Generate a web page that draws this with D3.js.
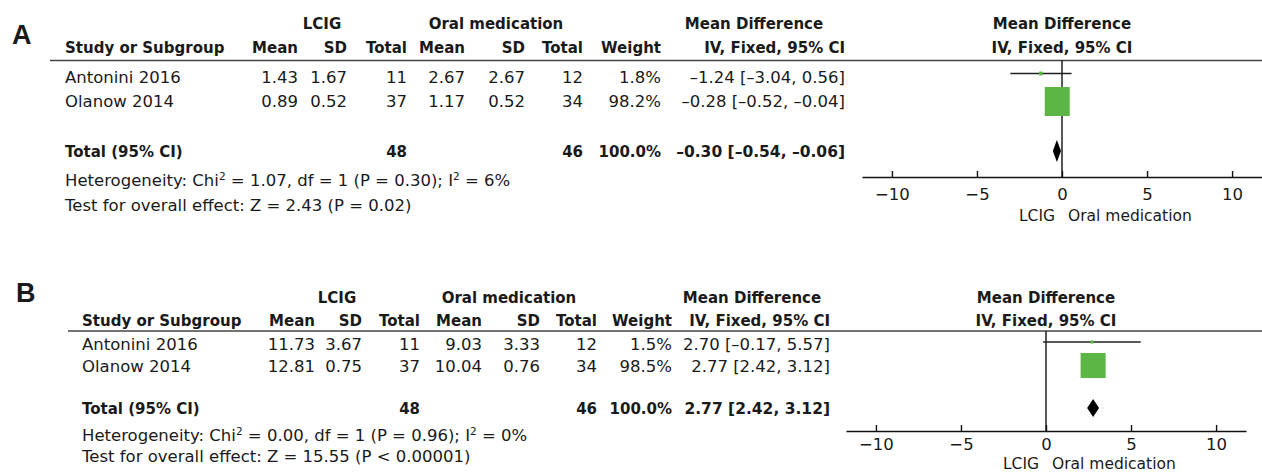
<!DOCTYPE html>
<html><head><meta charset="utf-8">
<script src="https://cdn.jsdelivr.net/npm/d3@7"></script>
<style>
body{margin:0;background:#fff}
svg{display:block}
text{font-family:"DejaVu Sans",Verdana,sans-serif;fill:#1a1a1a}
</style>
</head><body>
<svg id="c" width="1262" height="472"></svg>
<script>
// ---------- DATA ----------
const studies = ["Antonini 2016", "Olanow 2014"];
const ticks = [-10, -5, 0, 5, 10];
const axisDomain = [-11.76, 11.76];
const axisLabels = ["LCIG", "Oral medication"];

// Panel A
const aLcigMean = [1.43, 0.89];
const aLcigSD = [1.67, 0.52];
const aLcigN = [11, 37];
const aOralMean = [2.67, 1.17];
const aOralSD = [2.67, 0.52];
const aOralN = [12, 34];
const aWeight = [1.8, 98.2];
const aMD = [-1.24, -0.28];
const aLo = [-3.04, -0.52];
const aHi = [0.56, -0.04];
const aTotalN = [48, 46];
const aTotalCI = [-0.30, -0.54, -0.06];
const aHet = ["1.07", "1", "0.30", "6"];
const aTest = ["2.43", "P = 0.02"];

// Panel B
const bLcigMean = [11.73, 12.81];
const bLcigSD = [3.67, 0.75];
const bLcigN = [11, 37];
const bOralMean = [9.03, 10.04];
const bOralSD = [3.33, 0.76];
const bOralN = [12, 34];
const bWeight = [1.5, 98.5];
const bMD = [2.70, 2.77];
const bLo = [-0.17, 2.42];
const bHi = [5.57, 3.12];
const bTotalN = [48, 46];
const bTotalCI = [2.77, 2.42, 3.12];
const bHet = ["0.00", "1", "0.96", "0"];
const bTest = ["15.55", "P < 0.00001"];

// ---------- HELPERS ----------
const svg = d3.select("#c");
const REG = 16.5, BOLD = 15;
const fmt = v => (v < 0 ? "\u2013" : "") + Math.abs(v).toFixed(2);
const ciStr = (m, l, h) => `${fmt(m)} [${fmt(l)}, ${fmt(h)}]`;

function T(g, x, y, s, o = {}) {
  const t = g.append("text")
    .attr("x", x).attr("y", y)
    .attr("text-anchor", o.anchor || "start")
    .style("font-size", (o.size || REG) + "px")
    .style("font-weight", o.bold ? "bold" : "normal");
  if (o.family) t.style("font-family", o.family);
  if (Array.isArray(s)) {
    let prevSup = false;
    s.forEach(p => {
      const sp = t.append("tspan").text(p.t);
      if (p.sup) { sp.attr("dy", -6).style("font-size", "10.5px"); prevSup = true; }
      else if (prevSup) { sp.attr("dy", 6); prevSup = false; }
    });
  } else t.text(s);
  return t;
}

function draw(P, L) {
  const g = svg.append("g");
  T(g, L.labelX, L.labelY, P.label, {size: 27, bold: true, family: "'Liberation Sans',Arial,sans-serif"});

  // group headers
  T(g, L.lcigC, L.h1, "LCIG", {bold: true, anchor: "middle", size: BOLD});
  T(g, L.oralC, L.h1, "Oral medication", {bold: true, anchor: "middle", size: BOLD});
  T(g, L.mdC, L.h1, "Mean Difference", {bold: true, anchor: "middle", size: BOLD});
  T(g, L.zero, L.h1, "Mean Difference", {bold: true, anchor: "middle", size: BOLD});

  // column headers
  T(g, L.studyX, L.h2, "Study or Subgroup", {bold: true, size: BOLD});
  ["Mean", "SD", "Total", "Mean", "SD", "Total", "Weight", "IV, Fixed, 95% CI"]
    .forEach((h, j) => T(g, L.cols[j], L.h2, h, {bold: true, anchor: "end", size: BOLD}));
  T(g, L.zero, L.h2, "IV, Fixed, 95% CI", {bold: true, anchor: "middle", size: BOLD});

  g.append("line").attr("x1", L.lineX).attr("x2", 1262).attr("y1", L.line).attr("y2", L.line)
    .attr("stroke", "#444").attr("stroke-width", 1.6);

  // study rows
  P.studies.forEach((s, i) => {
    const y = L.rows[i];
    T(g, L.studyX, y, s);
    const vals = [fmt(P.lcigMean[i]), fmt(P.lcigSD[i]), P.lcigN[i],
                  fmt(P.oralMean[i]), fmt(P.oralSD[i]), P.oralN[i],
                  P.weight[i].toFixed(1) + "%", ciStr(P.md[i], P.lo[i], P.hi[i])];
    vals.forEach((v, j) => T(g, L.cols[j], y, v, {anchor: "end"}));
  });

  // total row
  const totW = d3.sum(P.weight).toFixed(1) + "%";
  T(g, L.studyX, L.total, "Total (95% CI)", {bold: true, size: BOLD});
  T(g, L.cols[2], L.total, P.totalN[0], {bold: true, anchor: "end", size: BOLD});
  T(g, L.cols[5], L.total, P.totalN[1], {bold: true, anchor: "end", size: BOLD});
  T(g, L.cols[6], L.total, totW, {bold: true, anchor: "end", size: BOLD});
  T(g, L.cols[7], L.total, ciStr(P.totalCI[0], P.totalCI[1], P.totalCI[2]), {bold: true, anchor: "end", size: BOLD + 0.5});

  T(g, L.studyX, L.het, [
    {t: "Heterogeneity: Chi"}, {t: "2", sup: true},
    {t: ` = ${P.het[0]}, df = ${P.het[1]} (P = ${P.het[2]}); I`}, {t: "2", sup: true},
    {t: ` = ${P.het[3]}%`}]);
  T(g, L.studyX, L.test, `Test for overall effect: Z = ${P.test[0]} (${P.test[1]})`);

  // forest plot
  const x = d3.scaleLinear().domain(axisDomain).range([L.zero - 200, L.zero + 200]);
  const ax = g.append("g").attr("transform", `translate(0,${L.axisY})`)
    .call(d3.axisBottom(x).tickValues(ticks).tickSizeInner(-6).tickSizeOuter(0).tickPadding(L.tickPad)
      .tickFormat(d => (d < 0 ? "\u2212" : "") + Math.abs(d)));
  ax.select(".domain").attr("stroke", "#111").attr("stroke-width", 1.4);
  ax.selectAll(".tick line").attr("stroke", "#111").attr("stroke-width", 1.4);
  ax.selectAll(".tick text").style("font-size", "16.5px").style("font-family", "'DejaVu Sans',sans-serif").attr("fill", "#1a1a1a");

  g.append("line").attr("x1", x(0)).attr("x2", x(0)).attr("y1", L.line).attr("y2", L.axisY)
    .attr("stroke", "#111").attr("stroke-width", 1.4);

  T(g, x(0) - 7, L.axLab, axisLabels[0], {anchor: "end", size: 15.5});
  T(g, x(0) + 6, L.axLab, axisLabels[1], {anchor: "start", size: 15.5});

  const maxW = d3.max(P.weight);
  P.studies.forEach((s, i) => {
    const cy = L.marks[i];
    g.append("line").attr("x1", x(P.lo[i])).attr("x2", x(P.hi[i])).attr("y1", cy).attr("y2", cy)
      .attr("stroke", "#222").attr("stroke-width", 1.4);
    const w = L.sqW * Math.sqrt(P.weight[i] / maxW);
    const h = L.sqH * Math.sqrt(P.weight[i] / maxW);
    g.append("rect").attr("x", x(P.md[i]) - w / 2).attr("y", cy - h / 2)
      .attr("width", w).attr("height", h).attr("fill", "#5bb645");
  });

  const dy = L.diamondY, dh = L.diamondH / 2;
  const [m, lo, hi] = P.totalCI;
  g.append("path")
    .attr("d", `M${x(lo)},${dy}L${x(m)},${dy - dh}L${x(hi)},${dy}L${x(m)},${dy + dh}Z`)
    .attr("fill", "#000");
}

draw({label: "A", studies, lcigMean: aLcigMean, lcigSD: aLcigSD, lcigN: aLcigN,
      oralMean: aOralMean, oralSD: aOralSD, oralN: aOralN, weight: aWeight,
      md: aMD, lo: aLo, hi: aHi, totalN: aTotalN, totalCI: aTotalCI, het: aHet, test: aTest},
     {labelX: 12, labelY: 44, h1: 29, h2: 53, line: 60.5, lineX: 50, studyX: 65,
      cols: [298, 347, 407, 465, 525, 583, 661, 845],
      lcigC: 322, oralC: 496, mdC: 754, zero: 1062,
      rows: [82.5, 106.5], total: 157, het: 186, test: 211,
      marks: [73.5, 101.5], sqW: 25, sqH: 29, diamondY: 151, diamondH: 22,
      axisY: 177, axLab: 221, tickPad: 11});

draw({label: "B", studies, lcigMean: bLcigMean, lcigSD: bLcigSD, lcigN: bLcigN,
      oralMean: bOralMean, oralSD: bOralSD, oralN: bOralN, weight: bWeight,
      md: bMD, lo: bLo, hi: bHi, totalN: bTotalN, totalCI: bTotalCI, het: bHet, test: bTest},
     {labelX: 16, labelY: 302, h1: 303, h2: 326, line: 331, lineX: 68, studyX: 82,
      cols: [315, 362, 420, 482, 540, 597, 672, 830],
      lcigC: 337, oralC: 509, mdC: 752, zero: 1046,
      rows: [349.5, 372], total: 414, het: 441, test: 462,
      marks: [342, 365.5], sqW: 25, sqH: 25, diamondY: 408, diamondH: 18,
      axisY: 431, axLab: 469, tickPad: 7});
</script>
</body></html>
